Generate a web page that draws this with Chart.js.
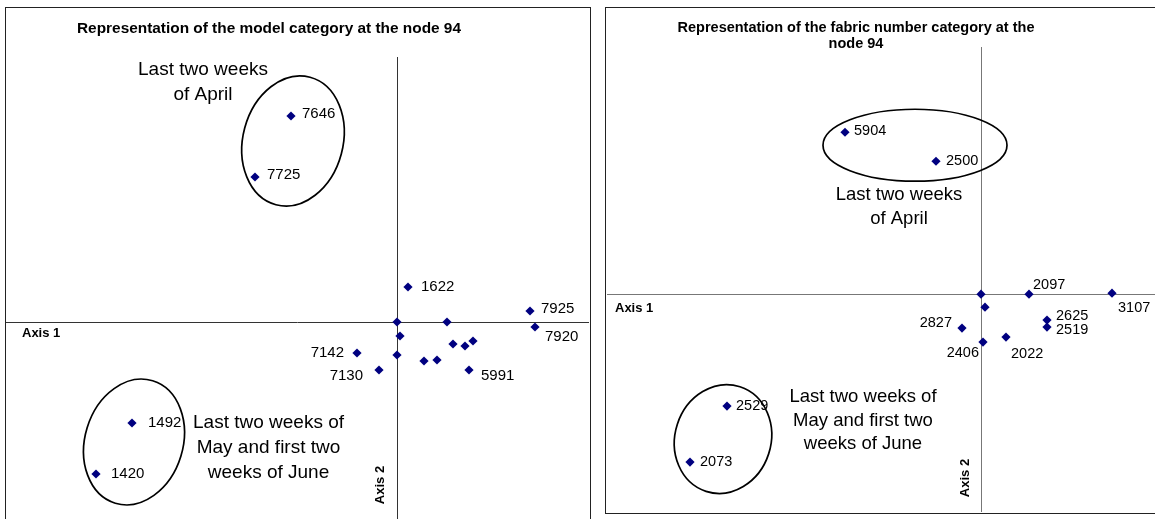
<!DOCTYPE html>
<html><head><meta charset="utf-8">
<script src="https://cdn.jsdelivr.net/npm/chart.js@4/dist/chart.umd.min.js"></script>
<style>
html,body{margin:0;padding:0;background:#fff}
body{width:1155px;height:519px;overflow:hidden;position:relative}
.panel{position:absolute;border:1.5px solid #222;box-sizing:border-box}
#p1{left:5px;top:7px;width:586px;height:540px}
#p2{left:605px;top:7px;width:580px;height:507px}
canvas{position:absolute}
#c1{left:6px;top:8px}
#c2{left:607px;top:8px}
</style></head>
<body>
<div class="panel" id="p1"></div>
<div class="panel" id="p2"></div>
<canvas id="c1" width="583" height="511"></canvas>
<canvas id="c2" width="548" height="504"></canvas>
<script>
// ---------- DATA: model category (left) ----------
const modelTitle = ['Representation of the model category at the node 94'];
const modelLabels = ['7646','7725','1622','7925','7920','','','','7142','','7130','','','','','','5991','1492','1420'];
const modelX = [-1.06,-1.42,0.11,1.33,1.38,0.00,0.50,0.03,-0.40,0.00,-0.18,0.27,0.40,0.56,0.68,0.76,0.72,-2.65,-3.01];
const modelY = [2.06,1.45,0.35,0.11,-0.05,0.00,0.00,-0.14,-0.31,-0.33,-0.48,-0.39,-0.38,-0.22,-0.24,-0.19,-0.48,-1.01,-1.52];
const modelNotes = [
  ['Last two weeks','of April'],
  ['Last two weeks of','May and first two','weeks of June']
];

// ---------- DATA: fabric number category (right) ----------
const fabricTitle = ['Representation of the fabric number category at the','node 94'];
const fabricLabels = ['','2097','3107','','2827','2625','2519','2406','2022','5904','2500','2529','2073'];
const fabricX = [0.00,0.48,1.31,0.04,-0.19,0.66,0.66,0.02,0.25,-1.36,-0.45,-2.54,-2.91];
const fabricY = [0.00,0.00,0.01,-0.13,-0.34,-0.26,-0.33,-0.48,-0.43,1.62,1.33,-1.12,-1.68];
const fabricNotes = [
  ['Last two weeks','of April'],
  ['Last two weeks of','May and first two','weeks of June']
];
const axisNames = ['Axis 1','Axis 2'];

// ---------- LAYOUT / STYLE ----------
const FONT = '"Liberation Sans", Arial, sans-serif';
const leftLayout = {
  range:{xmin:-3.91,xmax:1.92,ymin:-1.97,ymax:2.65}, padTop:49,
  axisColor:'#333', labelFont:15, noteFont:19, noteLine:25, titleFont:15.4,
  title:{x:263,y:[20.5]},
  axis1:{dx:16,dy:11}, axis2:{dx:-17,dy:-34},
  notes:[{x:-1.94,y:2.52},{x:-1.285,y:-1.01}],
  ellipses:[{cx:-1.04,cy:1.81,rx:0.50,ry:0.66,rot:15},{cx:-2.63,cy:-1.20,rx:0.49,ry:0.64,rot:17}],
  offsets:{'7646':[11,-2,'left'],'7725':[12,-2,'left'],'1622':[13,0,'left'],'7925':[11,-2,'left'],
           '7920':[10,10,'left'],'7142':[-13,0,'right'],'7130':[-16,6,'right'],'5991':[12,6,'left'],
           '1492':[16,0,'left'],'1420':[15,0,'left']}
};
const rightLayout = {
  range:{xmin:-3.74,xmax:1.74,ymin:-2.18,ymax:2.473}, padTop:39,
  axisColor:'#777', labelFont:14.5, noteFont:18.5, noteLine:23.5, titleFont:14.5,
  title:{x:249,y:[20,36]},
  axis1:{dx:8,dy:14}, axis2:{dx:-16,dy:-34},
  notes:[{x:-0.82,y:0.99},{x:-1.18,y:-1.03}],
  ellipses:[{cx:-0.66,cy:1.49,rx:0.92,ry:0.36,rot:0},{cx:-2.58,cy:-1.45,rx:0.48,ry:0.55,rot:18}],
  offsets:{'2097':[4,-9,'left'],'3107':[6,15,'left'],'2827':[-10,-5,'right'],'2625':[9,-4,'left'],
           '2519':[9,3,'left'],'2406':[-4,11,'right'],'2022':[5,17,'left'],'5904':[9,-1,'left'],
           '2500':[10,0,'left'],'2529':[9,0,'left'],'2073':[10,0,'left']}
};

const decor = {
  id:'decor',
  beforeDatasetsDraw(chart, args, o){
    const ctx = chart.ctx, xs = chart.scales.x, ys = chart.scales.y, ca = chart.chartArea;
    ctx.save();
    const x0 = Math.round(xs.getPixelForValue(0)) + 0.5;
    const y0 = Math.round(ys.getPixelForValue(0)) + 0.5;
    ctx.strokeStyle = o.L.axisColor; ctx.lineWidth = 1;
    ctx.beginPath();
    ctx.moveTo(0, y0); ctx.lineTo(chart.width, y0);
    ctx.moveTo(x0, ca.top); ctx.lineTo(x0, ca.bottom);
    ctx.stroke();
    // ellipses
    ctx.strokeStyle = '#000'; ctx.lineWidth = 1.7;
    o.L.ellipses.forEach(e => {
      const cx = xs.getPixelForValue(e.cx), cy = ys.getPixelForValue(e.cy);
      const rx = Math.abs(xs.getPixelForValue(e.cx + e.rx) - cx);
      const ry = Math.abs(ys.getPixelForValue(e.cy + e.ry) - cy);
      ctx.beginPath(); ctx.ellipse(cx, cy, rx, ry, e.rot * Math.PI / 180, 0, 2 * Math.PI); ctx.stroke();
    });
    ctx.restore();
  },
  afterDatasetsDraw(chart, args, o){
    const ctx = chart.ctx, xs = chart.scales.x, ys = chart.scales.y, ca = chart.chartArea, L = o.L;
    ctx.save();
    ctx.fillStyle = '#000';
    ctx.textBaseline = 'middle';
    // title
    ctx.font = 'bold ' + L.titleFont + 'px ' + FONT; ctx.textAlign = 'center';
    o.title.forEach((t, i) => ctx.fillText(t, L.title.x, L.title.y[i]));
    // axis names
    ctx.font = 'bold 13px ' + FONT;
    const x0 = xs.getPixelForValue(0), y0 = ys.getPixelForValue(0);
    ctx.textAlign = 'left';
    ctx.fillText(axisNames[0], ca.left + L.axis1.dx, y0 + L.axis1.dy);
    ctx.save();
    ctx.translate(x0 + L.axis2.dx, ca.bottom + L.axis2.dy);
    ctx.rotate(-Math.PI / 2); ctx.textAlign = 'center';
    ctx.fillText(axisNames[1], 0, 0);
    ctx.restore();
    // point labels
    ctx.font = L.labelFont + 'px ' + FONT;
    const meta = chart.getDatasetMeta(0);
    o.labels.forEach((lab, i) => {
      if (!lab) return;
      const p = meta.data[i], off = L.offsets[lab] || [10, 0, 'left'];
      ctx.textAlign = off[2];
      ctx.fillText(lab, p.x + off[0], p.y + off[1]);
    });
    // group notes
    ctx.font = L.noteFont + 'px ' + FONT; ctx.textAlign = 'center';
    o.notes.forEach((lines, k) => {
      const nx = xs.getPixelForValue(L.notes[k].x), ny = ys.getPixelForValue(L.notes[k].y);
      lines.forEach((t, j) => ctx.fillText(t, nx, ny + j * L.noteLine));
    });
    ctx.restore();
  }
};

function make(id, xsArr, ysArr, labels, notes, title, L){
  return new Chart(document.getElementById(id), {
    type:'scatter',
    data:{datasets:[{
      data: xsArr.map((v, i) => ({x:v, y:ysArr[i]})),
      pointStyle:'rectRot', pointRadius:4.6, pointHoverRadius:4.6,
      backgroundColor:'#000080', borderColor:'#000080', borderWidth:0, clip:false
    }]},
    options:{
      responsive:false, devicePixelRatio:1, animation:false, events:[],
      layout:{autoPadding:false, padding:{top:L.padTop,left:0,right:0,bottom:0}},
      scales:{
        x:{type:'linear', min:L.range.xmin, max:L.range.xmax, display:false},
        y:{type:'linear', min:L.range.ymin, max:L.range.ymax, display:false}
      },
      plugins:{legend:{display:false}, tooltip:{enabled:false}, title:{display:false},
        decor:{L:L, labels:labels, notes:notes, title:title}}
    },
    plugins:[decor]
  });
}
make('c1', modelX, modelY, modelLabels, modelNotes, modelTitle, leftLayout);
make('c2', fabricX, fabricY, fabricLabels, fabricNotes, fabricTitle, rightLayout);
</script>
</body></html>
